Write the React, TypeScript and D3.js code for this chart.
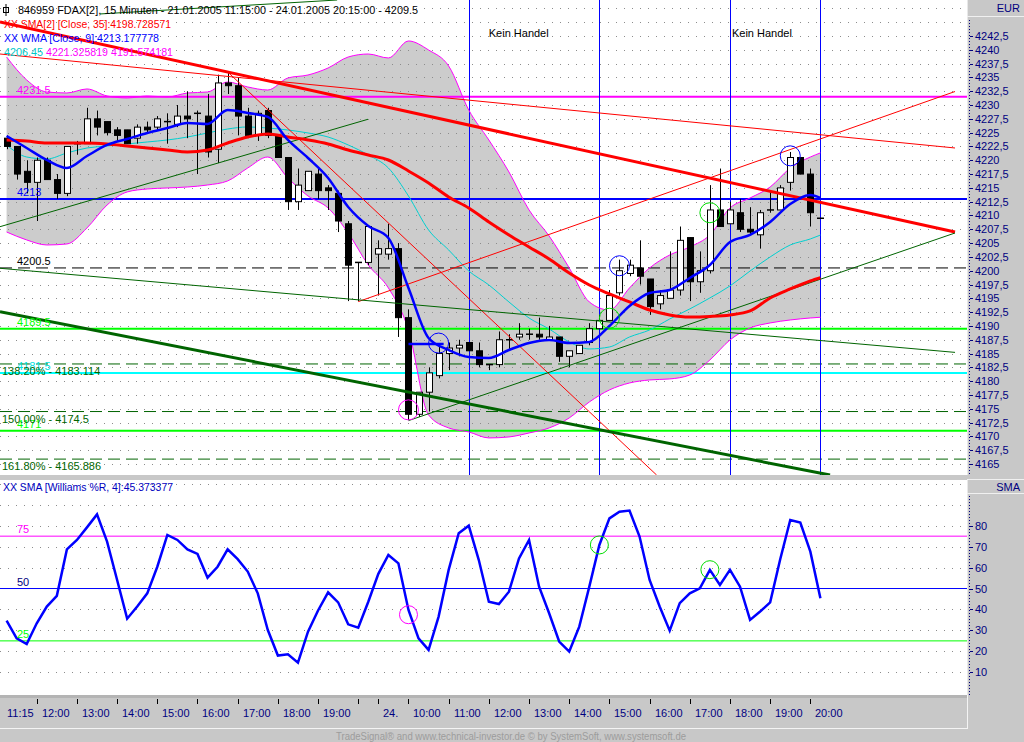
import React from 'react';
import * as d3 from 'd3';

// 15 minute bars: 21.01.2005 11:15 - 20:15, then 24.01.2005 09:15 - 20:15
const opens = [4224.0, 4222.5, 4218.0, 4216.0, 4220.0, 4216.5, 4214.0, 4223.0, 4223.0, 4227.5,
  4227.0, 4225.5, 4225.5, 4224.0, 4226.0, 4226.0, 4227.0, 4226.5, 4228.0, 4228.5,
  4228.0, 4222.0, 4234.0, 4233.5, 4228.0, 4224.5, 4229.0, 4224.5, 4220.5, 4212.5,
  4214.5, 4217.5, 4215.0, 4214.0, 4208.5, 4201.5, 4201.5, 4203.0, 4203.0, 4204.0,
  4191.5, 4174.0, 4178.0, 4181.0, 4185.0, 4186.0, 4187.0, 4185.5, 4183.0, 4183.0,
  4187.5, 4188.0, 4188.5, 4188.5, 4187.5, 4188.0, 4184.5, 4185.0, 4187.0, 4189.5,
  4191.0, 4196.0, 4199.5, 4200.5, 4198.5, 4194.0, 4195.0, 4196.5, 4206.0, 4198.0,
  4200.0, 4211.0, 4208.5, 4210.5, 4207.5, 4206.5, 4211.0, 4211.0, 4216.0, 4220.5,
  4217.5, 4209.5];
const highs = [4224.5, 4222.5, 4220.0, 4220.5, 4220.5, 4217.5, 4222.5, 4223.5, 4229.5, 4229.0,
  4227.0, 4226.0, 4225.5, 4226.5, 4227.0, 4228.0, 4228.5, 4230.0, 4232.5, 4229.0,
  4232.0, 4235.5, 4236.0, 4235.0, 4229.5, 4229.0, 4229.5, 4224.5, 4220.5, 4218.5,
  4218.0, 4218.5, 4215.5, 4214.5, 4209.0, 4201.5, 4208.0, 4205.5, 4208.5, 4205.0,
  4193.0, 4178.0, 4182.5, 4186.5, 4187.0, 4187.5, 4187.0, 4187.0, 4183.0, 4189.0,
  4188.5, 4190.5, 4189.5, 4191.5, 4190.0, 4188.0, 4185.5, 4186.5, 4190.5, 4192.0,
  4196.5, 4202.0, 4202.0, 4205.5, 4198.5, 4196.5, 4203.5, 4208.0, 4206.0, 4203.5,
  4215.5, 4218.5, 4212.5, 4213.0, 4211.5, 4211.0, 4214.5, 4215.5, 4221.5, 4220.5,
  4218.5, 4209.5];
const lows = [4222.0, 4216.5, 4214.0, 4209.0, 4216.5, 4213.0, 4213.5, 4221.0, 4223.0, 4224.5,
  4224.5, 4223.5, 4223.0, 4223.0, 4225.0, 4225.5, 4223.0, 4226.0, 4224.0, 4217.5,
  4220.5, 4219.5, 4232.0, 4224.5, 4224.0, 4223.5, 4224.0, 4220.5, 4211.0, 4211.0,
  4214.5, 4213.0, 4211.0, 4207.0, 4194.5, 4194.5, 4201.0, 4195.5, 4202.0, 4188.0,
  4173.0, 4173.5, 4174.5, 4180.5, 4182.0, 4184.5, 4185.5, 4182.5, 4182.0, 4182.5,
  4185.5, 4187.5, 4187.5, 4187.5, 4187.5, 4183.5, 4182.5, 4185.0, 4186.5, 4189.5,
  4191.0, 4195.5, 4199.0, 4197.5, 4192.0, 4193.0, 4195.0, 4195.5, 4194.5, 4196.0,
  4199.5, 4208.0, 4208.5, 4207.0, 4206.5, 4204.0, 4210.5, 4211.0, 4214.5, 4217.5,
  4208.0, 4209.5];
const closes = [4222.5, 4217.5, 4216.0, 4220.0, 4216.5, 4214.0, 4222.5, 4223.0, 4227.5, 4226.0,
  4225.0, 4224.5, 4223.0, 4226.0, 4225.5, 4227.5, 4227.0, 4228.0, 4227.5, 4228.5,
  4221.5, 4234.0, 4233.5, 4228.0, 4224.5, 4228.5, 4224.5, 4220.5, 4212.5, 4215.5,
  4218.0, 4214.5, 4214.5, 4209.0, 4201.0, 4201.5, 4208.0, 4204.0, 4204.0, 4191.5,
  4174.0, 4178.0, 4181.5, 4185.0, 4186.0, 4186.5, 4185.5, 4183.0, 4183.0, 4187.5,
  4187.5, 4188.5, 4188.5, 4188.0, 4188.0, 4184.5, 4185.5, 4186.5, 4189.5, 4191.0,
  4195.5, 4200.0, 4201.0, 4199.0, 4193.5, 4195.5, 4196.5, 4205.5, 4198.0, 4200.0,
  4211.0, 4208.0, 4211.0, 4207.5, 4207.0, 4210.5, 4211.0, 4215.0, 4220.5, 4217.5,
  4210.5, 4209.5];

// SMA of Williams %R (4), one value per bar
const williams = [34.7, 26.2, 23.5, 33.4, 41.4, 46.5, 68.7, 73.2, 79.2, 85.4,
  72.4, 54.1, 35.6, 41.4, 47.7, 60.4, 75.6, 73.2, 68.7, 66.5,
  55.2, 60.4, 68.7, 64.0, 58.1, 47.7, 30.2, 18.0, 18.6, 14.6,
  29.4, 39.5, 48.2, 43.4, 32.9, 31.3, 43.7, 57.0, 66.0, 62.0,
  39.8, 26.2, 20.7, 36.6, 58.9, 76.4, 80.0, 63.6, 43.7, 42.6,
  48.5, 64.4, 73.2, 50.9, 38.2, 24.7, 19.9, 31.8, 50.9, 70.8,
  83.5, 86.7, 87.2, 74.8, 54.1, 41.4, 29.9, 43.0, 47.7, 50.1,
  58.9, 51.7, 58.9, 50.9, 35.0, 39.0, 43.4, 64.0, 82.7, 81.5,
  67.6, 45.37];

// indicator values read at every second bar
const bandIdx = [0, 2, 4, 6, 8, 10, 12, 14, 16, 18, 20, 22, 24, 26, 28, 30, 32, 34, 36, 38, 40,
  42, 44, 46, 48, 50, 52, 54, 56, 58, 60, 62, 64, 66, 68, 70, 72, 74, 76, 78, 80, 81];
const bbUpper = [4238.70, 4234.54, 4232.36, 4232.18, 4232.91, 4231.64, 4231.28, 4231.64, 4231.46, 4232.18, 4232.36,
  4234.17, 4233.27, 4232.72, 4234.90, 4235.44, 4236.71, 4238.70, 4239.24, 4238.52, 4241.60,
  4239.97, 4237.07, 4229.10, 4223.67, 4217.88, 4211.00, 4206.29, 4200.50, 4194.34, 4192.89,
  4196.88, 4200.50, 4202.85, 4204.30, 4206.47, 4211.36, 4213.17, 4215.16, 4218.60, 4220.59, 4221.33];
const bbLower = [4207.01, 4205.57, 4204.66, 4204.84, 4207.74, 4211.90, 4214.26, 4214.80, 4214.98, 4215.16, 4215.52,
  4216.25, 4218.60, 4220.59, 4216.79, 4213.53, 4211.36, 4206.83, 4201.04, 4196.88, 4189.27,
  4173.88, 4171.53, 4170.80, 4169.72, 4169.90, 4170.62, 4171.53, 4173.34, 4176.23, 4178.41,
  4179.67, 4180.22, 4180.40, 4181.12, 4183.84, 4187.46, 4189.63, 4190.54, 4191.08, 4191.44, 4191.57];
const bbMid = [4222.77, 4220.59, 4220.23, 4221.32, 4222.22, 4222.59, 4222.95, 4223.31, 4223.67, 4224.21, 4224.94,
  4225.66, 4226.03, 4225.84, 4225.48, 4224.94, 4224.21, 4222.77, 4220.96, 4218.60, 4213.53,
  4207.38, 4203.76, 4199.95, 4197.42, 4194.34, 4191.44, 4189.45, 4187.10, 4185.83, 4186.19,
  4188.00, 4189.27, 4191.26, 4193.08, 4195.07, 4197.24, 4199.95, 4202.49, 4204.66, 4205.75, 4206.45];
const sma35 = [4223.67, 4223.49, 4223.13, 4223.13, 4223.13, 4222.95, 4222.59, 4222.22, 4221.86, 4221.50, 4221.86,
  4223.13, 4224.21, 4224.76, 4224.21, 4223.67, 4222.95, 4221.86, 4220.96, 4220.05, 4218.06,
  4215.89, 4213.35, 4211.36, 4208.82, 4206.47, 4204.30, 4202.13, 4199.59, 4197.42, 4195.79,
  4194.34, 4192.89, 4191.99, 4191.62, 4191.72, 4191.99, 4192.71, 4195.06, 4196.69, 4198.14, 4198.73];
const wma9 = [4224.40, 4222.22, 4220.05, 4218.60, 4220.77, 4222.77, 4223.85, 4224.94, 4225.84, 4226.75, 4226.57,
  4229.10, 4228.56, 4227.84, 4223.67, 4220.41, 4216.79, 4211.54, 4208.10, 4205.93, 4196.88,
  4187.82, 4185.65, 4184.38, 4184.20, 4185.65, 4186.92, 4187.46, 4186.92, 4187.10, 4189.99,
  4193.62, 4195.97, 4196.51, 4198.69, 4201.04, 4205.20, 4206.47, 4208.82, 4212.08, 4213.71, 4213.18];

// horizontal levels
const levelValues = [4231.5, 4213, 4200.5, 4189.5, 4181.5, 4171];
const levelLabels = ['4231.5', '4213', '4200.5', '4189.5', '4181.5', '4171'];
const levelColors = ['#ff00ff', '#0000ff', '#000000', '#00ff00', '#00ffff', '#00ff00'];
const fibValues = [4183.114, 4174.5, 4165.886];
const fibLabels = ['138.20% - 4183.114', '150.00% - 4174.5', '161.80% - 4165.886'];

// trend lines [bar index, price]
const trendStart = [[-0.66, 4245.04], [-0.66, 4239.24], [22, 4236.0], [35, 4194.4],
  [-0.66, 4207.97], [9.3, 4246.49], [-0.66, 4200.44], [-0.66, 4192.58], [40, 4172.85]];
const trendEnd = [[94.4, 4207.01], [94.4, 4222.22], [64.7, 4163.0], [94.4, 4232.45],
  [35.97, 4227.42], [32.9, 4249.02], [94.4, 4185.21], [81.96, 4163.0], [94.4, 4206.83]];
const trendColor = ['#ff0000', '#ff0000', '#ff0000', '#ff0000', '#006400', '#006400', '#006400', '#006400', '#006400'];
const trendWidth = [3, 1, 1, 1, 1, 1, 1, 3, 1];

const sessionBars = [46, 59, 72, 81];
const marks = [[43, 4186.9], [61, 4200.9], [78, 4220.8], [70, 4210.5], [60, 4191.4], [40, 4174.8]];
const markColors = ['#0000ff', '#0000ff', '#0000ff', '#00dd00', '#00dd00', '#ff00ff'];
const wMarks = [[40, 37.5], [59, 70.8], [70, 59.0]];
const wMarkColors = ['#ff00ff', '#00dd00', '#00dd00'];

const timeTickBars = [0, 3, 7, 11, 15, 19, 23, 27, 31, 35, 37, 40, 44, 48, 52, 56, 60, 64, 68, 72, 76, 80];
const timeLabels = ['11:15', '12:00', '13:00', '14:00', '15:00', '16:00', '17:00', '18:00', '19:00', '', '24.',
  '10:00', '11:00', '12:00', '13:00', '14:00', '15:00', '16:00', '17:00', '18:00', '19:00', '20:00'];
const wTicks = [10, 20, 30, 40, 50, 60, 70, 80];

const FONT = '"Liberation Sans", Arial, sans-serif';
const NAVY = '#000080';
const GREY = '#c8c8c8';

export default function App() {
  const x = d3.scaleLinear().domain([0, 81]).range([6.6, 820.4]);
  const y = d3.scaleLinear().domain([4165, 4242.5]).range([464, 36]);
  const yw = d3.scaleLinear().domain([10, 80]).range([672.3, 525.7]);
  const plotR = 967;

  const pts = bandIdx.map((i, k) => ({ i, u: bbUpper[k], l: bbLower[k], m: bbMid[k], s: sma35[k], w: wma9[k] }));
  const bandArea = d3.area<any>().x(d => x(d.i)).y0(d => y(d.l)).y1(d => y(d.u)).curve(d3.curveMonotoneX)(pts);
  const lineOf = (k: string) => d3.line<any>().x(d => x(d.i)).y(d => y(d[k])).curve(d3.curveMonotoneX)(pts);
  const wLine = d3.line<number>().x((d, i) => x(i)).y(d => yw(d))(williams);

  const priceTicks = d3.range(4165, 4243, 2.5);
  const priceGrid = d3.range(4165, 4249, 2.5);
  const wGrid = d3.range(10, 101, 10).filter(v => v !== 50);
  const fmt = (v: number) => (v % 1 ? v.toFixed(1).replace('.', ',') : String(v));

  const dotted = { stroke: '#8c8c8c', strokeWidth: 1, strokeDasharray: '1 7' };

  return (
    <svg width={1024} height={742} style={{ position: 'absolute', left: 0, top: 0, fontFamily: FONT }}>
      <defs>
        <clipPath id="up"><rect x={0} y={0} width={plotR} height={475} /></clipPath>
        <clipPath id="lo"><rect x={0} y={480} width={plotR} height={215} /></clipPath>
      </defs>
      <rect x={0} y={0} width={1024} height={742} fill={GREY} />
      <rect x={0} y={0} width={plotR} height={475} fill="#fff" />
      <rect x={0} y={480} width={plotR} height={215} fill="#fff" />

      {/* upper panel */}
      <g clipPath="url(#up)">
        <path d={bandArea || ''} fill="#cccccc" />
        {priceGrid.map(v => (
          <line key={v} x1={0} x2={plotR} y1={Math.round(y(v)) + 0.5} y2={Math.round(y(v)) + 0.5} {...dotted} />
        ))}
        {levelValues.map((v, k) => (
          <line key={v} x1={0} x2={plotR} y1={y(v)} y2={y(v)} stroke={levelColors[k]}
            strokeWidth={k === 2 ? 1 : 2} strokeDasharray={k === 2 ? '12 6' : undefined} />
        ))}
        {fibValues.map(v => (
          <line key={v} x1={0} x2={plotR} y1={y(v)} y2={y(v)} stroke="#006400" strokeWidth={1} strokeDasharray="12 6" />
        ))}
        {sessionBars.map(i => (
          <line key={i} x1={Math.round(x(i)) + 0.5} x2={Math.round(x(i)) + 0.5} y1={0} y2={475} stroke="#0000ff" strokeWidth={1} />
        ))}
        <path d={lineOf('u') || ''} fill="none" stroke="#ff00ff" strokeWidth={1} />
        <path d={lineOf('l') || ''} fill="none" stroke="#ff00ff" strokeWidth={1} />
        <path d={lineOf('m') || ''} fill="none" stroke="#00d0d0" strokeWidth={1} />
        {opens.map((o, i) => {
          const cx = Math.round(x(i));
          const c = closes[i];
          const top = y(Math.max(o, c));
          const bot = y(Math.min(o, c));
          const doji = Math.abs(c - o) < 0.25;
          return (
            <g key={i}>
              <line x1={cx + 0.5} x2={cx + 0.5} y1={y(highs[i])} y2={y(lows[i])} stroke="#000" strokeWidth={1} />
              {doji ? (
                <line x1={cx - 3} x2={cx + 4} y1={top} y2={top} stroke="#000" strokeWidth={1.5} />
              ) : (
                <rect x={cx - 2.5} y={top} width={6} height={bot - top} fill={c > o ? '#fff' : '#000'} stroke="#000" strokeWidth={1} />
              )}
            </g>
          );
        })}
        {trendStart.map((s, k) => (
          <line key={k} x1={x(s[0])} y1={y(s[1])} x2={x(trendEnd[k][0])} y2={y(trendEnd[k][1])}
            stroke={trendColor[k]} strokeWidth={trendWidth[k]} />
        ))}
        <path d={lineOf('s') || ''} fill="none" stroke="#ff0000" strokeWidth={3} />
        <path d={lineOf('w') || ''} fill="none" stroke="#0000ff" strokeWidth={2.5} />
        <line x1={x(40)} x2={x(43.5)} y1={y(4186.73)} y2={y(4186.73)} stroke="#0000ff" strokeWidth={2.5} />
        {marks.map((m, k) => (
          <circle key={k} cx={x(m[0])} cy={y(m[1])} r={10} fill="none" stroke={markColors[k]} strokeWidth={1} />
        ))}
      </g>

      {/* upper labels */}
      {levelValues.map((v, k) => (
        <text key={v} x={17} y={y(v) - 3} fontSize={11} fill={levelColors[k] === '#00ffff' ? '#00e0e0' : levelColors[k]}>{levelLabels[k]}</text>
      ))}
      {fibValues.map((v, k) => (
        <text key={v} x={2} y={y(v) + 11} fontSize={11} fill="#006400">{fibLabels[k]}</text>
      ))}
      <text x={x(46) + 20} y={37} fontSize={11} fill="#000">Kein Handel</text>
      <text x={x(72) + 2} y={37} fontSize={11} fill="#000">Kein Handel</text>

      <g fontSize={11}>
        <rect x={3.5} y={7.5} width={5} height={5} fill="none" stroke="#000" />
        <line x1={6} x2={6} y1={4} y2={16} stroke="#000" />
        <text x={18} y={14} fill="#000" textLength={400} lengthAdjust="spacingAndGlyphs">846959  FDAX[2], 15 Minuten - 21.01.2005 11:15:00 - 24.01.2005 20:15:00 - 4209.5</text>
        <text x={4} y={28} fill="#ff0000" textLength={167} lengthAdjust="spacingAndGlyphs">XX SMA[2] [Close, 35]:4198.728571</text>
        <text x={4} y={41.5} fill="#0000ff" textLength={155} lengthAdjust="spacingAndGlyphs">XX WMA [Close, 9]:4213.177778</text>
        <text x={4} y={55.5} fill="#00c8c8" textLength={39} lengthAdjust="spacingAndGlyphs">4206.45</text>
        <text x={46} y={55.5} fill="#ff00ff" textLength={127} lengthAdjust="spacingAndGlyphs">4221.325819 4191.574181</text>
      </g>

      {/* upper right axis */}
      <line x1={plotR + 0.5} x2={plotR + 0.5} y1={0} y2={475} stroke="#e8e8e8" />
      <line x1={plotR} x2={1024} y1={16.5} y2={16.5} stroke="#f0f0f0" />
      <text x={1020} y={12} fontSize={11} fill={NAVY} textAnchor="end">EUR</text>
      <line x1={969.5} x2={969.5} y1={20} y2={475} stroke={NAVY} strokeDasharray="1 2" />
      {priceTicks.map(v => (
        <g key={v}>
          <line x1={970} x2={973} y1={Math.round(y(v)) + 0.5} y2={Math.round(y(v)) + 0.5} stroke={NAVY} />
          <text x={975} y={y(v) + 4} fontSize={11} fill={NAVY}>{fmt(v)}</text>
        </g>
      ))}

      {/* lower panel */}
      <g clipPath="url(#lo)">
        {wGrid.map(v => (
          <line key={v} x1={0} x2={plotR} y1={Math.round(yw(v)) + 0.5} y2={Math.round(yw(v)) + 0.5} {...dotted} />
        ))}
        <line x1={0} x2={plotR} y1={yw(75)} y2={yw(75)} stroke="#ff00ff" />
        <line x1={0} x2={plotR} y1={yw(50)} y2={yw(50)} stroke="#0000ff" />
        <line x1={0} x2={plotR} y1={yw(25)} y2={yw(25)} stroke="#00ff00" />
        <path d={wLine || ''} fill="none" stroke="#0000ff" strokeWidth={2.5} />
        {wMarks.map((m, k) => (
          <circle key={k} cx={x(m[0])} cy={yw(m[1])} r={9} fill="none" stroke={wMarkColors[k]} strokeWidth={1} />
        ))}
      </g>
      <text x={17} y={yw(75) - 3} fontSize={11} fill="#ff00ff">75</text>
      <text x={17} y={yw(50) - 3} fontSize={11} fill={NAVY}>50</text>
      <text x={17} y={yw(25) - 3} fontSize={11} fill="#00ff00">25</text>
      <text x={3} y={491} fontSize={11} fill="#0000c0" textLength={170} lengthAdjust="spacingAndGlyphs">XX SMA [Williams %R, 4]:45.373377</text>

      <line x1={plotR + 0.5} x2={plotR + 0.5} y1={480} y2={695} stroke="#e8e8e8" />
      <line x1={plotR} x2={1024} y1={479.5} y2={479.5} stroke="#f0f0f0" />
      <line x1={plotR} x2={1024} y1={493.5} y2={493.5} stroke="#f0f0f0" />
      <text x={1020} y={491} fontSize={11} fill={NAVY} textAnchor="end">SMA</text>
      <line x1={969.5} x2={969.5} y1={496} y2={695} stroke={NAVY} strokeDasharray="1 2" />
      {wTicks.map(v => (
        <g key={v}>
          <line x1={970} x2={973} y1={Math.round(yw(v)) + 0.5} y2={Math.round(yw(v)) + 0.5} stroke={NAVY} />
          <text x={975} y={yw(v) + 4} fontSize={11} fill={NAVY}>{v}</text>
        </g>
      ))}

      {/* time axis */}
      <rect x={0} y={695} width={plotR} height={3} fill="#b4b4b4" />
      <line x1={0} x2={plotR} y1={728.5} y2={728.5} stroke="#f4f4f4" />
      <line x1={plotR + 0.5} x2={plotR + 0.5} y1={695} y2={729} stroke="#f4f4f4" />
      {timeTickBars.map((i, k) => {
        const tx = Math.round(x(i)) + 0.5;
        return (
          <g key={k}>
            {i > 0 && <line x1={tx} x2={tx} y1={699} y2={704} stroke="#000" />}
            <text x={i === 0 ? 7 : tx + 4.5} y={717} fontSize={11} fill={NAVY}>{timeLabels[k]}</text>
          </g>
        );
      })}
      <text x={511} y={739.5} fontSize={10} fill="#9c9c9c" textAnchor="middle" textLength={350} lengthAdjust="spacingAndGlyphs">
        TradeSignal® and www.technical-investor.de © by SystemSoft, www.systemsoft.de
      </text>
    </svg>
  );
}
